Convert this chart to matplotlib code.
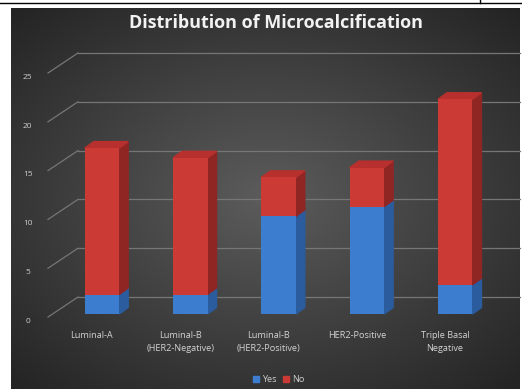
import numpy as np
import matplotlib.pyplot as plt
from matplotlib.patches import Polygon, Patch
from matplotlib.lines import Line2D

plt.rcParams['font.family'] = ['Open Sans', 'DejaVu Sans']

# data
categories = ['Luminal-A', 'Luminal-B\n(HER2-Negative)', 'Luminal-B\n(HER2-Positive)',
              'HER2-Positive', 'Triple Basal\nNegative']
yes_counts = [2, 2, 10, 11, 3]
no_counts = [15, 14, 4, 4, 19]
y_ticks = [0, 5, 10, 15, 20, 25]

W, H = 522, 389
fig = plt.figure(figsize=(W / 100, H / 100), dpi=100)
fig.patch.set_facecolor('white')

# dark radial background of the chart area
bg = fig.add_axes([11 / W, 0, 509 / W, 381 / H])
yy, xx = np.mgrid[-1:1:300j, -1:1:400j]
r = np.sqrt((xx * 0.95) ** 2 + (yy * 1.0) ** 2)
v = np.clip(0.36 - 0.16 * r, 0.13, 1)
bg.imshow(np.dstack([v, v, v]), aspect='auto', extent=(0, 1, 0, 1))
bg.axis('off')

# main axes, 3d look faked with offsets
ax = fig.add_axes([0, 0, 1, 1])
ax.patch.set_alpha(0)
ax.set_xlim(-1.155, 4.756)
ax.set_ylim(-7.68, 32.17)
ax.axis('off')

ux, uy = 88.3, 9.76          # pixels per unit
ddx, ddy = 9 / ux, 6.5 / uy  # bar depth
back_dx, back_dy = 30 / ux, 20 / uy
wall_x0 = (78 - 102) / ux
wall_x1 = (520 - 102) / ux
grid_col = '#767676'

for t in y_ticks:
    yb = t + 17 / uy
    ax.plot([wall_x0, wall_x1], [yb, yb], color=grid_col, lw=0.9, zorder=1)
    ax.plot([wall_x0 - back_dx, wall_x0], [yb - back_dy, yb], color=grid_col, lw=0.9, zorder=1)
    ax.text(-0.84, t - 0.75, str(t), color='#cfcfcf', fontsize=6, ha='center', va='center')

x = np.arange(len(categories))
bw = 0.39
yes = np.array(yes_counts)
no = np.array(no_counts)
tot = yes + no

blue, blue_side = '#3d7dd0', '#2a5c9e'
red, red_side, red_top = '#cc3a36', '#8f2624', '#b8302d'

ax.bar(x, yes, width=bw, color=blue, zorder=3)
ax.bar(x, no, width=bw, bottom=yes, color=red, zorder=3)

for xi, yv, tv in zip(x, yes, tot):
    xr = xi + bw / 2
    ax.add_patch(Polygon([(xr, 0), (xr + ddx, ddy), (xr + ddx, yv + ddy), (xr, yv)],
                         closed=True, color=blue_side, zorder=2))
    ax.add_patch(Polygon([(xr, yv), (xr + ddx, yv + ddy), (xr + ddx, tv + ddy), (xr, tv)],
                         closed=True, color=red_side, zorder=2))
    ax.add_patch(Polygon([(xi - bw / 2, tv), (xr, tv), (xr + ddx, tv + ddy),
                          (xi - bw / 2 + ddx, tv + ddy)],
                         closed=True, color=red_top, zorder=2))

for xi, lab in zip(x, categories):
    ax.text(xi - 0.115, -1.7, lab, color='#d2d2d2', fontsize=6.6, ha='center', va='top',
            linespacing=1.6)

fig.text(0.529, 0.941, 'Distribution of Microcalcification', color='#f2f2f2',
         fontsize=13, fontweight='bold', ha='center', va='center')

handles = [Patch(color=blue, label='Yes'), Patch(color=red, label='No')]
fig.legend(handles=handles, loc='center', bbox_to_anchor=(0.534, 0.024), ncol=2,
           frameon=False, fontsize=6.6, labelcolor='#cfcfcf', handlelength=0.6,
           handleheight=0.6, handletextpad=0.3, columnspacing=0.8)

# thin frame line of the page above the chart
fig.add_artist(Line2D([0, 1], [1 - 2.5 / H, 1 - 2.5 / H], color='black', lw=1))
fig.add_artist(Line2D([480 / W, 480 / W], [1, 1 - 2.5 / H], color='black', lw=1))

fig.savefig('out.png', dpi=100)
